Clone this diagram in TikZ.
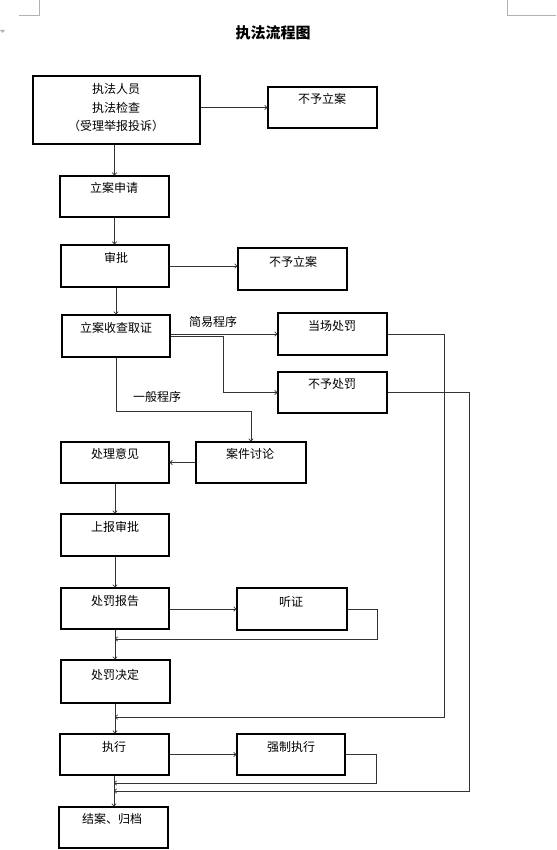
\documentclass[tikz,border=0pt]{standalone}
\usepackage{fontspec}
\newfontfamily\cjk{Noto Sans CJK SC}
\usetikzlibrary{arrows.meta}
\begin{document}
\begin{tikzpicture}[x=1pt,y=-1pt,
  boxst/.style={draw=black,line width=1.2pt,minimum width=109pt,minimum height=41pt,inner sep=0pt},
  txtbase/.style={font=\cjk\fontsize{12}{18.5}\selectfont,inner sep=0pt,align=center},
  txt/.style={txtbase,text height=0.8em,text depth=0.1em},
  conn/.style={draw=black!80,line width=0.7pt},
  arr/.style={conn,-{To[length=3pt,width=5pt]}},
  cropmk/.style={draw=black!30,line width=0.6pt}]
\useasboundingbox (0,0) rectangle (556,850);
% crop marks
\draw[cropmk] (19,15) -- (39,15) -- (39,0);
\draw[cropmk] (507,0) -- (507,15) -- (556,15);
\fill[black!30] (0,30) -- (5,30) -- (2.5,33) -- cycle;
% title
\node[font=\cjk\fontsize{15}{15}\selectfont\bfseries,inner sep=0pt] (title) at (273,33) {执法流程图};
% boxes
\node[boxst,minimum width=167pt,minimum height=68pt] (b1) at (116.5,110) {};
\node[boxst] (n1) at (322.5,107.5) {};
\node[boxst] (b2) at (114.5,196.5) {};
\node[boxst,minimum width=108pt,minimum height=42pt] (b3) at (115,266) {};
\node[boxst,minimum height=42pt] (n2) at (292.5,269) {};
\node[boxst,minimum width=108pt,minimum height=42pt] (b4) at (116,336) {};
\node[boxst,minimum height=42pt] (c1) at (332.5,334) {};
\node[boxst] (c2) at (332.5,392.5) {};
\node[boxst,minimum width=108pt] (d1) at (115,462.5) {};
\node[boxst,minimum width=110pt] (d2) at (251,462.5) {};
\node[boxst,minimum width=108pt,minimum height=42pt] (e1) at (115,535) {};
\node[boxst,minimum width=108pt] (f1) at (115,608.5) {};
\node[boxst,minimum width=110pt,minimum height=42pt] (f2) at (292,609) {};
\node[boxst,minimum height=43pt] (g1) at (115.5,681.5) {};
\node[boxst] (h1) at (114.5,754.5) {};
\node[boxst,minimum width=108pt] (h2) at (291,754.5) {};
\node[boxst] (k1) at (113.5,827.5) {};
% texts
\node[txtbase] (tb1) at (116,108) {执法人员\\执法检查\\（受理举报投诉）};
\node[txt] (tn1) at (322,100) {不予立案};
\node[txt] (tb2) at (114,189) {立案申请};
\node[txt] (tb3) at (116,259) {审批};
\node[txt] (tn2) at (293,263) {不予立案};
\node[txt] (tb4) at (116,329) {立案收查取证};
\node[txt] (tc1) at (332,327) {当场处罚};
\node[txt] (tc2) at (332,385) {不予处罚};
\node[txt] (lab1) at (213,323) {简易程序};
\node[txt] (lab2) at (157,398) {一般程序};
\node[txt] (td1) at (115,455) {处理意见};
\node[txt] (td2) at (250,455) {案件讨论};
\node[txt] (te1) at (115,528) {上报审批};
\node[txt] (tf1) at (115,602) {处罚报告};
\node[txt] (tf2) at (291,603) {听证};
\node[txt] (tg1) at (115,676) {处罚决定};
\node[txt] (th1) at (114,748) {执行};
\node[txt] (th2) at (291,748) {强制执行};
\node[txt] (tk1) at (112,820) {结案、归档};
% junctions
\coordinate (j1) at (115,639);
\coordinate (j2) at (115,717);
\coordinate (j3) at (114,783);
\coordinate (j4) at (114,791);
% connectors
\draw[arr] (b1.east |- n1.west) -- (n1.west);
\draw[arr] (b2.north |- b1.south) -- (b2.north);
\draw[arr] (b2.south) -- (b3.north -| b2.south);
\draw[arr] (b3.east) -- (b3.east -| n2.west);
\draw[arr] (b4.north |- b3.south) -- (b4.north);
\draw[arr] (b4.east |- c1.west) -- (c1.west);
\draw[arr] (b4.east) -- ++(53,0) |- (c2.west);
\draw[arr] (b4.south) -- ++(0,54) -| (d2.north);
\draw[arr] (d2.west) -- (d1.east);
\draw[arr] (d1.south) -- (e1.north);
\draw[arr] (e1.south) -- (f1.north);
\draw[arr] (f1.east |- f2.west) -- (f2.west);
\draw[arr] (f1.south) -- (g1.north -| f1.south);
\draw[arr] (g1.south -| f1.south) -- (h1.north -| f1.south);
\draw[arr] (h1.east |- h2.west) -- (h2.west);
\draw[arr] (h1.south -| j3) -- (k1.north -| j3);
\draw[arr] (f2.east) -- ++(30,0) |- (j1);
\draw[arr] (c1.east) -- ++(57,0) |- (j2);
\draw[arr] (h2.east) -- ++(31,0) |- (j3);
\draw[arr] (c2.east) -- ++(82,0) |- (j4);
\end{tikzpicture}
\end{document}
